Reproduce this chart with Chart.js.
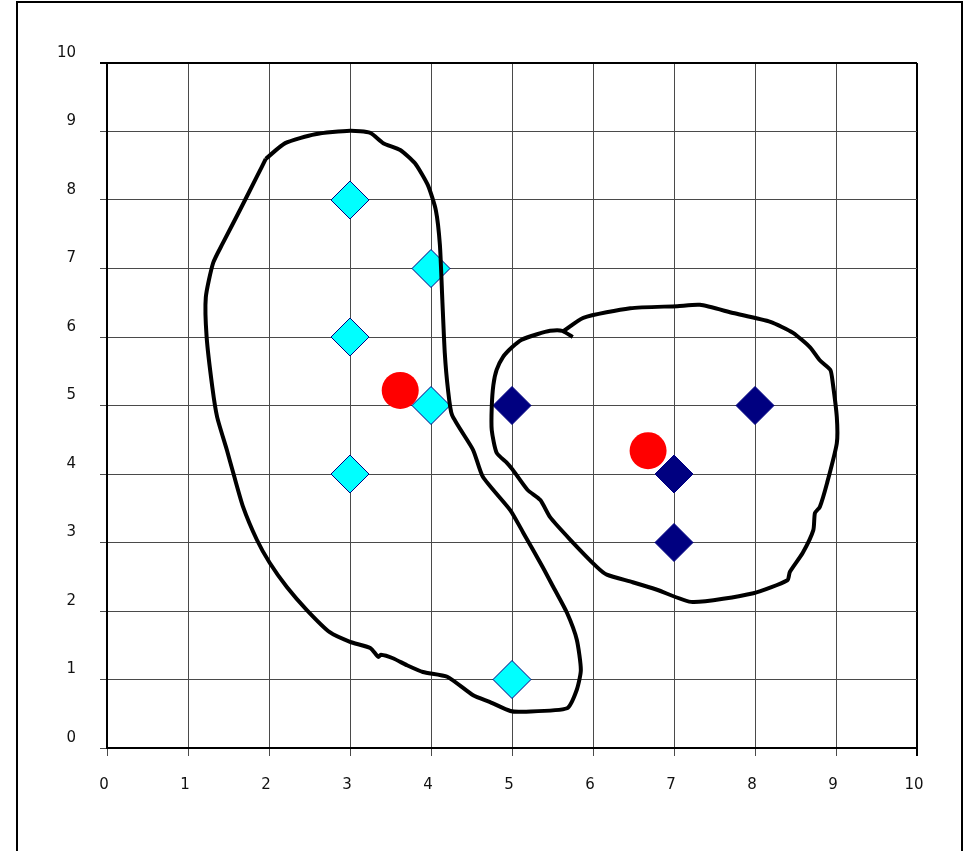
<!DOCTYPE html>
<html>
<head>
<meta charset="utf-8">
<script src="https://cdn.jsdelivr.net/npm/chart.js@4/dist/chart.umd.min.js"></script>
<style>
  html, body { margin: 0; padding: 0; background: #fff; }
  #wrap { position: relative; width: 974px; height: 851px; overflow: hidden; }
  #frame { position: absolute; left: 16px; top: 1px; width: 943px; height: 900px; border: 2px solid #000; }
  #chart { position: absolute; left: 0; top: 0; }
</style>
</head>
<body>
<div id="wrap">
  <div id="frame"></div>
  <canvas id="chart" width="974" height="851"></canvas>
</div>
<script>
// cluster members (cyan) and second cluster (navy)
let groupA = [[3, 8], [4, 7], [3, 6], [4, 5], [3, 4], [5, 1]];
let groupB = [[5, 5], [8, 5], [7, 4], [7, 3]];
// centres
let centres = [[3.62, 5.22], [6.68, 4.34]];

// hand drawn outlines around each cluster
let outlineA = [
    [1.96, 8.60], [2.20, 8.83], [2.57, 8.96], [3.00, 9.01], [3.25, 8.98], [3.41, 8.83],
    [3.62, 8.73], [3.80, 8.54], [3.96, 8.22], [4.06, 7.85], [4.11, 7.34], [4.14, 6.54],
    [4.17, 5.77], [4.21, 5.23], [4.26, 4.86], [4.52, 4.35], [4.64, 3.96], [4.98, 3.47],
    [5.14, 3.14], [5.38, 2.64], [5.51, 2.35], [5.68, 1.97], [5.80, 1.58], [5.85, 1.14],
    [5.80, 0.85], [5.68, 0.58], [5.14, 0.53], [4.98, 0.54], [4.73, 0.67], [4.52, 0.77],
    [4.20, 1.04], [3.90, 1.11], [3.70, 1.21], [3.53, 1.31], [3.38, 1.36], [3.35, 1.33],
    [3.25, 1.46], [3.00, 1.55], [2.75, 1.69], [2.47, 2.01], [2.22, 2.35], [2.01, 2.70],
    [1.85, 3.04], [1.68, 3.52], [1.56, 4.01], [1.48, 4.35], [1.36, 4.83], [1.30, 5.27],
    [1.23, 6.00], [1.22, 6.58], [1.31, 7.08], [1.43, 7.37], [1.64, 7.85], [1.85, 8.34],
    [1.96, 8.60]
];
let outlineB = [
    [5.75, 6.00], [5.62, 6.09], [5.47, 6.09], [5.31, 6.04], [5.12, 5.96], [5.00, 5.85],
    [4.89, 5.71], [4.81, 5.52], [4.77, 5.30], [4.75, 4.98], [4.75, 4.64], [4.81, 4.31],
    [4.94, 4.16], [5.01, 4.06], [5.19, 3.77], [5.35, 3.62], [5.47, 3.37], [5.72, 3.04],
    [6.05, 2.64], [6.17, 2.53], [6.49, 2.42], [6.79, 2.31], [7.23, 2.13], [7.98, 2.26],
    [8.40, 2.45], [8.43, 2.57], [8.59, 2.85], [8.72, 3.18], [8.74, 3.43], [8.80, 3.52],
    [8.89, 3.87], [9.01, 4.45], [9.01, 4.83], [8.96, 5.33], [8.93, 5.52], [8.80, 5.66],
    [8.68, 5.85], [8.47, 6.06], [8.19, 6.22], [7.73, 6.35], [7.32, 6.47], [7.04, 6.45],
    [6.46, 6.42], [5.88, 6.28], [5.62, 6.07]
];

let axisMin = 0;
let axisMax = 10;

function toPoints(arr) {
    return arr.map(p => ({ x: p[0], y: p[1] }));
}

function edgeWidth(ctx) {
    return (ctx.tick && ctx.tick.value === axisMax) ? 2 : 1;
}
function edgeColor(ctx) {
    return (ctx.tick && ctx.tick.value === axisMax) ? '#000' : '#4a4a4a';
}

let tickFont = { family: 'DejaVu Sans', size: 15 };

new Chart(document.getElementById('chart').getContext('2d'), {
    type: 'scatter',
    data: {
        datasets: [{
            data: toPoints(outlineA),
            showLine: true,
            borderColor: '#000',
            borderWidth: 4,
            pointRadius: 0,
            tension: 0.2,
            order: 0
        }, {
            data: toPoints(outlineB),
            showLine: true,
            borderColor: '#000',
            borderWidth: 4,
            pointRadius: 0,
            tension: 0.2,
            order: 0
        }, {
            data: toPoints(groupA),
            pointStyle: 'rectRot',
            pointRadius: 19,
            backgroundColor: '#00ffff',
            borderColor: '#000080',
            borderWidth: 1,
            order: 1
        }, {
            data: toPoints(groupB),
            pointStyle: 'rectRot',
            pointRadius: 19,
            backgroundColor: '#000080',
            borderColor: '#000080',
            borderWidth: 1,
            order: 1
        }, {
            data: toPoints(centres),
            pointStyle: 'circle',
            pointRadius: 18.5,
            backgroundColor: '#ff0000',
            borderWidth: 0,
            order: 2
        }]
    },
    options: {
        responsive: false,
        animation: false,
        layout: { padding: { left: 0, right: 57, top: 63, bottom: 0 } },
        plugins: { legend: { display: false }, tooltip: { enabled: false } },
        scales: {
            x: {
                type: 'linear',
                min: axisMin,
                max: axisMax,
                afterFit: s => { s.height = 103; },
                border: { display: true, color: '#000', width: 2 },
                grid: { color: edgeColor, lineWidth: edgeWidth, tickLength: 8 },
                ticks: { stepSize: 1, color: '#111', font: tickFont, padding: 20, labelOffset: -3, maxRotation: 0 }
            },
            y: {
                type: 'linear',
                min: axisMin,
                max: axisMax,
                afterFit: s => { s.width = 107; },
                border: { display: true, color: '#000', width: 2 },
                grid: { color: edgeColor, lineWidth: edgeWidth, tickLength: 7 },
                ticks: { stepSize: 1, color: '#111', font: tickFont, padding: 24, labelOffset: -10 }
            }
        }
    }
});
</script>
</body>
</html>
